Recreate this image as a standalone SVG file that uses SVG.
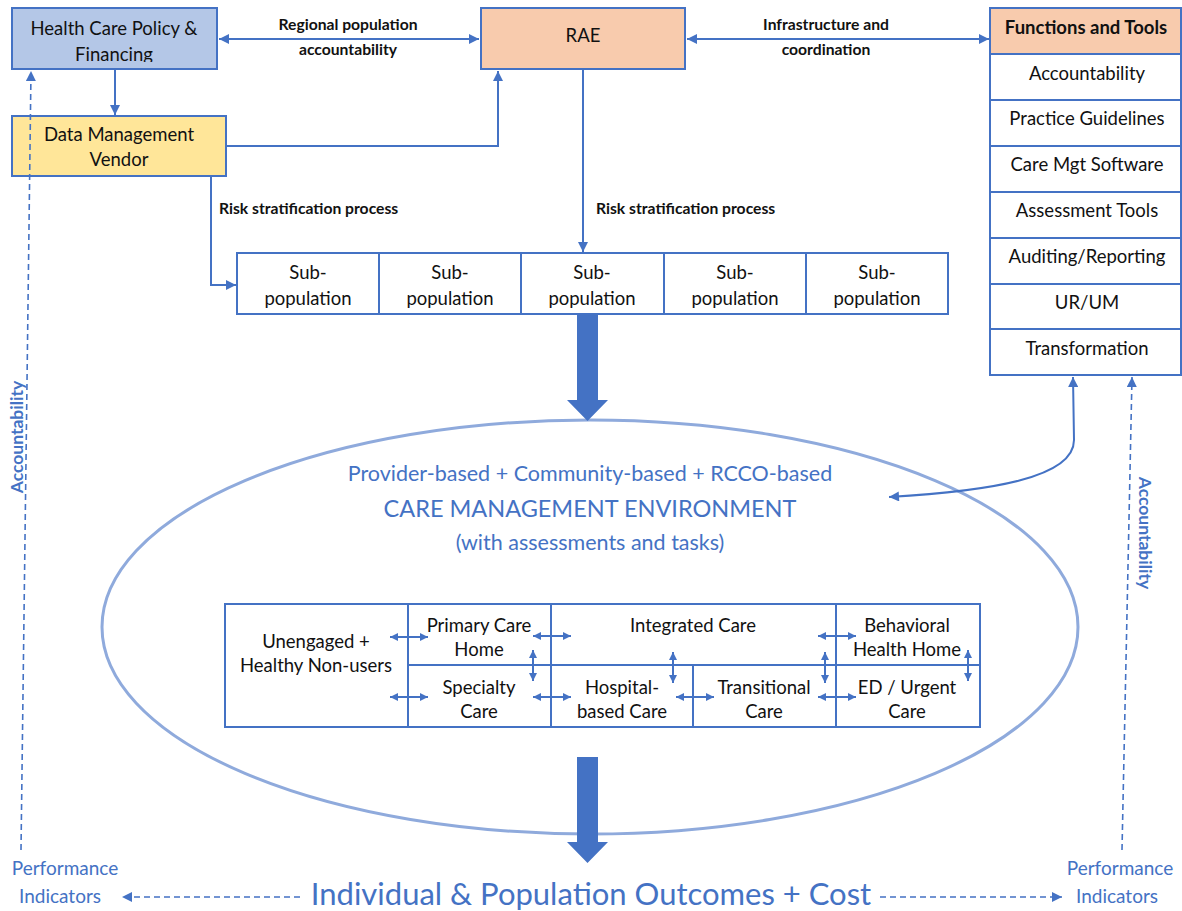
<svg xmlns="http://www.w3.org/2000/svg" width="1182" height="911" viewBox="0 0 1182 911">
<style>
.box{stroke:#4472c4;stroke-width:2}
.t{font-family:Lato,"Liberation Sans",sans-serif;font-size:18.5px;fill:#111;text-anchor:middle}
.b{font-family:Lato,"Liberation Sans",sans-serif;font-size:15.7px;font-weight:bold;fill:#111}
.blue{font-family:Lato,"Liberation Sans",sans-serif;fill:#4472c4;text-anchor:middle}
.ln{stroke:#4472c4;stroke-width:2;fill:none}
.dash{stroke:#4472c4;stroke-width:1.6;fill:none;stroke-dasharray:6 4}
.grid{stroke:#4472c4;stroke-width:2;fill:none}
</style>
<defs>
<marker id="ah" viewBox="0 0 10 10" refX="10" refY="5" markerWidth="11" markerHeight="10" markerUnits="userSpaceOnUse" orient="auto-start-reverse"><path d="M0,0 L10,5 L0,10 z" fill="#4472c4"/></marker>
<marker id="sm" viewBox="0 0 10 10" refX="10" refY="5" markerWidth="8" markerHeight="8" markerUnits="userSpaceOnUse" orient="auto-start-reverse"><path d="M0,0 L10,5 L0,10 z" fill="#4472c4"/></marker>
<clipPath id="hcpclip"><rect x="12" y="8" width="205" height="54"/></clipPath>
</defs>

<g id="hcp">
<rect class="box" x="12" y="8" width="205" height="61" fill="#b4c7e7"/>
<g clip-path="url(#hcpclip)">
<text class="t" x="114" y="35">Health Care Policy &amp;</text>
<text class="t" x="114" y="61">Financing</text>
</g>
</g>

<g id="dmv">
<rect class="box" x="12" y="116" width="214" height="60" fill="#ffe699"/>
<text class="t" x="119" y="141">Data Management</text>
<text class="t" x="119" y="166">Vendor</text>
</g>

<g id="rae">
<rect class="box" x="481" y="8" width="204" height="61" fill="#f8cbad"/>
<text class="t" x="583" y="42">RAE</text>
</g>

<g id="functions">
<rect class="box" x="990" y="8" width="191" height="46" fill="#f8cbad"/>
<rect class="box" x="990" y="54" width="191" height="321" fill="#fff"/>
<g class="ln">
<line x1="990" y1="100" x2="1181" y2="100"/>
<line x1="990" y1="146" x2="1181" y2="146"/>
<line x1="990" y1="192" x2="1181" y2="192"/>
<line x1="990" y1="238" x2="1181" y2="238"/>
<line x1="990" y1="284" x2="1181" y2="284"/>
<line x1="990" y1="329" x2="1181" y2="329"/>
</g>
<text class="t" x="1086" y="34" font-weight="bold">Functions and Tools</text>
<text class="t" x="1087" y="80">Accountability</text>
<text class="t" x="1087" y="125">Practice Guidelines</text>
<text class="t" x="1087" y="171">Care Mgt Software</text>
<text class="t" x="1087" y="217">Assessment Tools</text>
<text class="t" x="1087" y="263">Auditing/Reporting</text>
<text class="t" x="1087" y="309">UR/UM</text>
<text class="t" x="1087" y="355">Transformation</text>
</g>

<g id="subpopulations">
<rect class="grid" x="237" y="253" width="711" height="61" fill="#fff"/>
<line class="grid" x1="379" y1="253" x2="379" y2="314"/>
<line class="grid" x1="521" y1="253" x2="521" y2="314"/>
<line class="grid" x1="664" y1="253" x2="664" y2="314"/>
<line class="grid" x1="806" y1="253" x2="806" y2="314"/>
<text class="t" x="308" y="279">Sub-</text><text class="t" x="308" y="305">population</text>
<text class="t" x="450" y="279">Sub-</text><text class="t" x="450" y="305">population</text>
<text class="t" x="592" y="279">Sub-</text><text class="t" x="592" y="305">population</text>
<text class="t" x="735" y="279">Sub-</text><text class="t" x="735" y="305">population</text>
<text class="t" x="877" y="279">Sub-</text><text class="t" x="877" y="305">population</text>
</g>

<g id="environment">
<ellipse cx="590" cy="627" rx="488" ry="207" fill="none" stroke="#8faadc" stroke-width="3"/>
<text class="blue" x="590" y="481" font-size="21.5">Provider-based + Community-based + RCCO-based</text>
<text class="blue" x="590" y="517" font-size="23.5">CARE MANAGEMENT ENVIRONMENT</text>
<text class="blue" x="590" y="550" font-size="21.5">(with assessments and tasks)</text>
</g>

<g id="care-table">
<rect class="grid" x="225" y="604" width="755" height="123" fill="#fff"/>
<line class="grid" x1="408" y1="604" x2="408" y2="727"/>
<line class="grid" x1="551" y1="604" x2="551" y2="727"/>
<line class="grid" x1="693" y1="665" x2="693" y2="727"/>
<line class="grid" x1="836" y1="604" x2="836" y2="727"/>
<line class="grid" x1="408" y1="665" x2="980" y2="665"/>
<text class="t" x="316" y="648">Unengaged +</text>
<text class="t" x="316" y="672">Healthy Non-users</text>
<text class="t" x="479" y="632">Primary Care</text>
<text class="t" x="479" y="656">Home</text>
<text class="t" x="693" y="632">Integrated Care</text>
<text class="t" x="907" y="632">Behavioral</text>
<text class="t" x="907" y="656">Health Home</text>
<text class="t" x="479" y="694">Specialty</text>
<text class="t" x="479" y="718">Care</text>
<text class="t" x="622" y="694">Hospital-</text>
<text class="t" x="622" y="718">based Care</text>
<text class="t" x="764" y="694">Transitional</text>
<text class="t" x="764" y="718">Care</text>
<text class="t" x="907" y="694">ED / Urgent</text>
<text class="t" x="907" y="718">Care</text>
</g>

<g id="outcomes">
<text class="blue" x="591" y="905" font-size="31">Individual &amp; Population Outcomes + Cost</text>
<text class="blue" x="65" y="875" font-size="19">Performance</text>
<text class="blue" x="60" y="903" font-size="19">Indicators</text>
<text class="blue" x="1120" y="875" font-size="19">Performance</text>
<text class="blue" x="1117" y="903" font-size="19">Indicators</text>
</g>

<g id="connectors">
<line class="ln" x1="219" y1="39" x2="479" y2="39" marker-start="url(#ah)" marker-end="url(#ah)"/>
<text class="b" x="348" y="30" text-anchor="middle">Regional population</text>
<text class="b" x="348" y="55" text-anchor="middle">accountability</text>
<line class="ln" x1="687" y1="39" x2="989" y2="39" marker-start="url(#ah)" marker-end="url(#ah)"/>
<text class="b" x="826" y="30" text-anchor="middle">Infrastructure and</text>
<text class="b" x="826" y="55" text-anchor="middle">coordination</text>
<line class="ln" x1="115" y1="69" x2="115" y2="115" marker-end="url(#ah)"/>
<polyline class="ln" points="226,146 498,146 498,71" marker-end="url(#ah)"/>
<polyline class="ln" points="211,176 211,285 236,285" marker-end="url(#ah)"/>
<text class="b" x="219" y="214">Risk stratification process</text>
<line class="ln" x1="583" y1="69" x2="583" y2="252" marker-end="url(#ah)"/>
<text class="b" x="596" y="214">Risk stratification process</text>
<polygon points="577,314 598,314 598,400 608,400 587.5,421 567,400 577,400" fill="#4472c4"/>
<polygon points="577,757 598,757 598,842 608,842 587.5,863 567,842 577,842" fill="#4472c4"/>
<path class="ln" d="M1073,377 L1074,440 C1074,478 990,491 889,497" stroke-width="1.8" marker-start="url(#ah)" marker-end="url(#ah)"/>
<line class="dash" x1="21" y1="850" x2="31" y2="71" marker-end="url(#ah)"/>
<line class="dash" x1="1122" y1="850" x2="1132" y2="377" marker-end="url(#ah)"/>
<line class="dash" x1="300" y1="897" x2="122" y2="897" marker-end="url(#ah)"/>
<line class="dash" x1="880" y1="897" x2="1062" y2="897" marker-end="url(#ah)"/>
<text class="blue" font-size="17.5" font-weight="bold" transform="translate(23,437) rotate(-90)">Accountability</text>
<text class="blue" font-size="17.5" font-weight="bold" transform="translate(1139,533) rotate(90)">Accountability</text>
<g stroke-width="1.8">
<line class="ln" x1="390" y1="637" x2="428" y2="637" marker-start="url(#sm)" marker-end="url(#sm)"/>
<line class="ln" x1="390" y1="697" x2="428" y2="697" marker-start="url(#sm)" marker-end="url(#sm)"/>
<line class="ln" x1="533" y1="636" x2="571" y2="636" marker-start="url(#sm)" marker-end="url(#sm)"/>
<line class="ln" x1="533" y1="697" x2="571" y2="697" marker-start="url(#sm)" marker-end="url(#sm)"/>
<line class="ln" x1="676" y1="697" x2="714" y2="697" marker-start="url(#sm)" marker-end="url(#sm)"/>
<line class="ln" x1="818" y1="636" x2="856" y2="636" marker-start="url(#sm)" marker-end="url(#sm)"/>
<line class="ln" x1="818" y1="697" x2="856" y2="697" marker-start="url(#sm)" marker-end="url(#sm)"/>
<line class="ln" x1="533" y1="650" x2="533" y2="681" marker-start="url(#sm)" marker-end="url(#sm)"/>
<line class="ln" x1="673" y1="652" x2="673" y2="683" marker-start="url(#sm)" marker-end="url(#sm)"/>
<line class="ln" x1="825" y1="652" x2="825" y2="683" marker-start="url(#sm)" marker-end="url(#sm)"/>
<line class="ln" x1="968" y1="650" x2="968" y2="681" marker-start="url(#sm)" marker-end="url(#sm)"/>
</g>
</g>
</svg>
